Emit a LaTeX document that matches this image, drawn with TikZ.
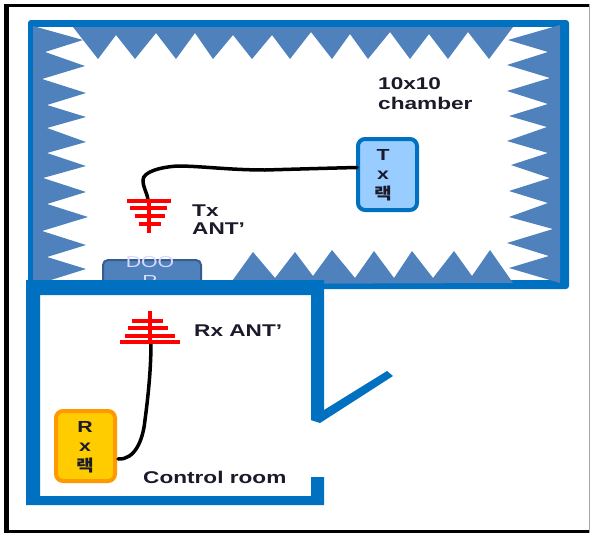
\documentclass[tikz,border=0pt]{standalone}
\usepackage{fontspec}
\setmainfont[FakeStretch=1.33]{Liberation Sans}
\newfontfamily\krfont[FakeStretch=1.2]{Noto Sans CJK KR}
\definecolor{wallblue}{HTML}{0070C0}
\definecolor{wedgeblue}{HTML}{4F81BD}
\definecolor{doorline}{HTML}{385D8A}
\definecolor{txfill}{HTML}{99CCFF}
\definecolor{rxfill}{HTML}{FFCC00}
\definecolor{rxline}{HTML}{FF9900}
\definecolor{inkdark}{HTML}{1A1A2A}
\tikzset{
  wall/.style={fill=wallblue,draw=none},
  wedge/.style={fill=wedgeblue,draw=none},
  rack/.style={rounded corners=7pt,line width=4pt,inner sep=0pt,outer sep=0pt,anchor=center},
  lbl/.style={font=\fontsize{17}{19}\selectfont\bfseries,text=inkdark,inner sep=0pt,anchor=west},
  racktxt/.style={font=\fontsize{16}{19.5}\selectfont\bfseries,text=inkdark,inner sep=0pt,align=center},
  rung/.style={draw=red,line width=3.5pt},
  cable/.style={draw=black,line width=3.5pt,line cap=round}
}
\begin{document}
\begin{tikzpicture}[x=1pt,y=-1pt]
\useasboundingbox (0,0) rectangle (590,533);
\fill[white] (0,0) rectangle (590,533);
% picture frame
\fill[black] (4,4) rectangle (9,533);
\fill[black] (4,4) rectangle (590,7);
\fill[black] (4,530) rectangle (590,533);
\fill[gray!70] (589,4) rectangle (590,533);
% chamber wall
\fill[wall,rounded corners=3pt] (28,20) rectangle (569,289);
\fill[white] (33,27) rectangle (559,280);
% absorber wedges: top
\fill[wedge] (73,27) -- (98,59) -- (116,35) -- (135,59) -- (156,33) -- (176,59) -- (195,33) -- (213,59) -- (233,35) -- (252,59) -- (272,35) -- (290,59) -- (311,32) -- (332,59) -- (350,34) -- (368,59) -- (390,32) -- (410,59) -- (429,34) -- (448,59) -- (468,32) -- (489,59) -- (513,27) -- cycle;
% left
\fill[wedge] (33,26) -- (83,40) -- (45,52) -- (85,66) -- (42,79) -- (86,93) -- (47,105) -- (86,117) -- (47,128) -- (86,142) -- (47,153) -- (86,166) -- (43,178) -- (86,192) -- (47,204) -- (88,217) -- (42,231) -- (86,245) -- (47,257) -- (86,269) -- (35,285) -- (33,285) -- cycle;
% right
\fill[wedge] (560,25) -- (508,40) -- (548,52) -- (507,65) -- (550,78) -- (507,91) -- (548,104) -- (509,116) -- (547,127) -- (507,141) -- (548,153) -- (511,165) -- (550,178) -- (509,191) -- (548,203) -- (509,217) -- (553,229) -- (507,243) -- (549,256) -- (509,268) -- (560,283) -- cycle;
% bottom
\fill[wedge] (230,284) -- (253,252) -- (275,278) -- (295,252) -- (313,276) -- (332,250) -- (355,278) -- (374,251) -- (394,278) -- (412,251) -- (433,278) -- (454,251) -- (472,276) -- (490,250) -- (513,283) -- cycle;
% door
\node[rounded corners=5pt,fill=wedgeblue,draw=doorline,line width=2pt,minimum width=98pt,minimum height=40pt,inner sep=0pt,anchor=north west] (door) at (102,259) {};
\node[font=\fontsize{16}{19}\selectfont,text=white!85!blue,inner sep=0pt,align=center,anchor=north] (doortext) at (150,256) {DOO\\R};
% control room
\fill[white] (30,290) rectangle (315,500);
\fill[wall] (26,280) -- (324,280) -- (324,420) -- (311,420) -- (311,295) -- (40,295) -- (40,496) -- (311,496) -- (311,477) -- (324,477) -- (324,505) -- (26,505) -- cycle;
\fill[wall] (311,420) -- (320,423) -- (393,376) -- (387,371) -- (324,410) -- cycle;
% racks
\node[rack,fill=txfill,draw=wallblue,minimum width=59pt,minimum height=71pt] (txrack) at (387.5,174.5) {};
\node[racktxt] (txtext) at (383,175) {T\\x\\{\krfont 랙}};
\node[rack,fill=rxfill,draw=rxline,minimum width=59pt,minimum height=70pt] (rxrack) at (85.5,446) {};
\node[racktxt] (rxtext) at (85,447) {R\\x\\{\krfont 랙}};
% antennas and cables
\coordinate (txant) at (148,200);
\coordinate (rxant) at (151,342);
\path (txrack.west) ++(-1pt,7pt) coordinate (txport);
\path (rxrack.east) ++(3pt,-13pt) coordinate (rxport);
\draw[cable] (txport) .. controls (335,168) and (300,169) .. (265,170) .. controls (230,170) and (200,166) .. (178,166) .. controls (160,167) and (143,172) .. (143,180) .. controls (143,188) and (147,192) .. (txant);
\draw[cable] (rxport) .. controls (135,460) and (143,440) .. (145,420) .. controls (149,390) and (151,365) .. (rxant);
\draw[rung] (149,200) -- (149,233);
\draw[rung] (127,201) -- (171,201);
\draw[rung] (130,208) -- (167,208);
\draw[rung] (135,216) -- (165,216);
\draw[rung] (139,224) -- (161,224);
\draw[rung] (150,311) -- (150,343);
\draw[rung] (132,321) -- (163,321);
\draw[rung] (128,328) -- (168,328);
\draw[rung] (125,336) -- (175,336);
\draw[rung] (120,342) -- (180,342);
% labels
\node[lbl] (l1) at (378,84) {10x10};
\node[lbl] (l2) at (378,103) {chamber};
\node[lbl] (l3) at (192,211) {Tx};
\node[lbl] (l4) at (192,229) {ANT’};
\node[lbl] (l5) at (194,331) {Rx ANT’};
\node[lbl] (l6) at (143,477) {Control room};
\end{tikzpicture}
\end{document}
